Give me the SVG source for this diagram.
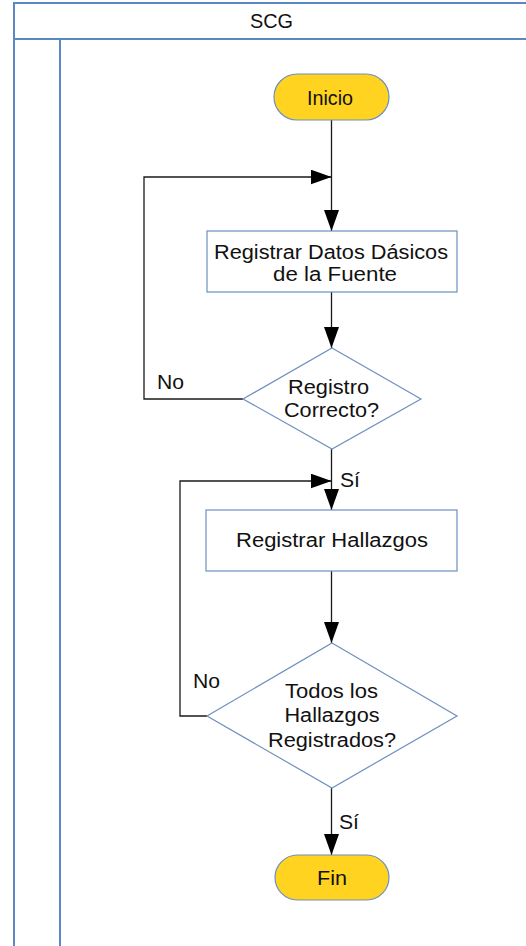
<svg xmlns="http://www.w3.org/2000/svg" width="526" height="946" viewBox="0 0 526 946">
<style>
text{font-family:"Liberation Sans",Arial,sans-serif;fill:#111;text-anchor:middle;font-size:19.5px}
.edge{text-anchor:start}
.frame{fill:none;stroke:#5b87c5;stroke-width:2}
.term{fill:#ffd320;stroke:#6d90c0;stroke-width:1.2}
.box{fill:#fff;stroke:#6d90c0;stroke-width:1.2}
.con{fill:none;stroke:#1a1a1a;stroke-width:1.3}
</style>
<defs>
<marker id="arr" markerUnits="userSpaceOnUse" markerWidth="22" markerHeight="16" refX="21" refY="7.5" orient="auto">
<path d="M0,0 L21,7.5 L0,15 Z" fill="#000"/>
</marker>
</defs>
<g id="pool">
<rect class="frame" x="14" y="3" width="520" height="950"/>
<line class="frame" x1="14" y1="39" x2="526" y2="39"/>
<line class="frame" x1="60" y1="39" x2="60" y2="946"/>
<text x="271.5" y="28" textLength="43" lengthAdjust="spacingAndGlyphs">SCG</text>
</g>
<g id="connectors">
<line class="con" x1="331.5" y1="120" x2="331.5" y2="231" marker-end="url(#arr)"/>
<polyline class="con" points="243,399 144,399 144,177 331.5,177" marker-end="url(#arr)"/>
<line class="con" x1="331.5" y1="292" x2="331.5" y2="348" marker-end="url(#arr)"/>
<line class="con" x1="331.5" y1="449" x2="331.5" y2="510" marker-end="url(#arr)"/>
<polyline class="con" points="207,716 180,716 180,481 331.5,481" marker-end="url(#arr)"/>
<line class="con" x1="331.5" y1="571" x2="331.5" y2="643" marker-end="url(#arr)"/>
<line class="con" x1="331.5" y1="788" x2="331.5" y2="855" marker-end="url(#arr)"/>
<text class="edge" x="157" y="389" textLength="27" lengthAdjust="spacingAndGlyphs">No</text>
<text class="edge" x="340" y="487" textLength="20" lengthAdjust="spacingAndGlyphs">Sí</text>
<text class="edge" x="193" y="688" textLength="27" lengthAdjust="spacingAndGlyphs">No</text>
<text class="edge" x="339" y="829" textLength="20" lengthAdjust="spacingAndGlyphs">Sí</text>
</g>
<g id="inicio">
<rect class="term" x="274" y="74" width="115" height="46" rx="23"/>
<text x="330" y="105" textLength="46" lengthAdjust="spacingAndGlyphs">Inicio</text>
</g>
<g id="registrar-datos">
<rect class="box" x="207" y="231" width="250" height="61"/>
<text x="331" y="259" textLength="234" lengthAdjust="spacingAndGlyphs">Registrar Datos Dásicos</text>
<text x="335" y="281" textLength="124" lengthAdjust="spacingAndGlyphs">de la Fuente</text>
</g>
<g id="registro-correcto">
<polygon class="box" points="332,348 421,399 332,449 243,399"/>
<text x="328.5" y="394" textLength="81" lengthAdjust="spacingAndGlyphs">Registro</text>
<text x="331.5" y="417" textLength="95" lengthAdjust="spacingAndGlyphs">Correcto?</text>
</g>
<g id="registrar-hallazgos">
<rect class="box" x="206" y="510" width="251" height="61"/>
<text x="332" y="547" textLength="192" lengthAdjust="spacingAndGlyphs">Registrar Hallazgos</text>
</g>
<g id="todos-registrados">
<polygon class="box" points="332,643 457,716 332,788 207,716"/>
<text x="331.5" y="698" textLength="93" lengthAdjust="spacingAndGlyphs">Todos los</text>
<text x="332" y="722" textLength="95" lengthAdjust="spacingAndGlyphs">Hallazgos</text>
<text x="332" y="747" textLength="128" lengthAdjust="spacingAndGlyphs">Registrados?</text>
</g>
<g id="fin">
<rect class="term" x="275" y="855" width="114" height="45" rx="22.5"/>
<text x="332" y="885" textLength="30" lengthAdjust="spacingAndGlyphs">Fin</text>
</g>
</svg>
